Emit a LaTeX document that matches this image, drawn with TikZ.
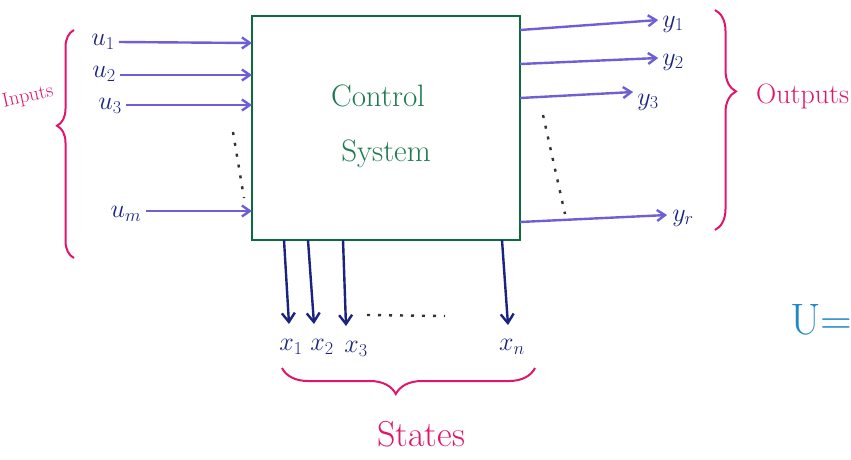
\RequirePackage{fix-cm}
\documentclass[tikz,border=0pt]{standalone}
\usetikzlibrary{arrows.meta,decorations.pathreplacing}
\definecolor{boxgreen}{HTML}{0E6B3C}
\definecolor{txtgreen}{HTML}{1E7A50}
\definecolor{arrpurple}{HTML}{6E5FD6}
\definecolor{navy}{HTML}{1A2380}
\definecolor{magentaink}{HTML}{E0156B}
\definecolor{cyanink}{HTML}{1E88C8}
\tikzset{
  sysbox/.style={draw=boxgreen, line width=2.6pt, minimum width=268pt, minimum height=224pt, inner sep=0pt},
  inarrow/.style={draw=arrpurple, line width=2.4pt, -{Straight Barb[length=8pt,width=11pt]}},
  statearrow/.style={draw=navy, line width=2.4pt, -{Straight Barb[length=9pt,width=13pt]}},
  sig/.style={text=navy, font=\fontsize{26}{28}\selectfont, inner sep=1pt},
  dotline/.style={draw=black!80, line width=2.4pt, dash pattern=on 3pt off 8pt},
  bracestyle/.style={draw=magentaink, line width=2pt, decorate},
  braceword/.style={text=magentaink, inner sep=0pt}
}
\begin{document}
\begin{tikzpicture}[x=1pt,y=-1pt]
\useasboundingbox (0,0) rectangle (851,459);
% system box
\node[sysbox] (sys) at (386,128) {};
\node[text=txtgreen, font=\fontsize{31}{33}\selectfont] (ctl) at (378,96) {Control};
\node[text=txtgreen, font=\fontsize{31}{33}\selectfont] (sysw) at (386,154) {System};
% input labels
\node[sig] (u1) at (103,42) {$u_1$};
\node[sig] (u2) at (104,74) {$u_2$};
\node[sig] (u3) at (110,106) {$u_3$};
\node[sig] (um) at (126,214) {$u_m$};
\coordinate (bu1) at (252,43);
\coordinate (bu2) at (252,75);
\coordinate (bu3) at (252,105);
\coordinate (bum) at (252,211);
\draw[inarrow] (u1.east) ++(3,0) -- (bu1);
\draw[inarrow] (u2.east) ++(3,1) -- (bu2);
\draw[inarrow] (u3.east) ++(3,-1) -- (bu3);
\draw[inarrow] (um.east) ++(4,-3) -- (bum);
\coordinate (d1a) at (233,132);
\coordinate (d1b) at (244,198);
\draw[dotline] (d1a) -- (d1b);
% output labels
\node[sig] (y1) at (673,24) {$y_1$};
\node[sig] (y2) at (673,62) {$y_2$};
\node[sig] (y3) at (648,102) {$y_3$};
\node[sig] (yr) at (683,218) {$y_r$};
\coordinate (by1) at (520,30);
\coordinate (by2) at (520,64);
\coordinate (by3) at (520,98);
\coordinate (byr) at (520,222);
\draw[inarrow] (by1) -- ([xshift=-3pt]y1.west |- 0,20);
\draw[inarrow] (by2) -- ([xshift=-3pt]y2.west |- 0,58);
\draw[inarrow] (by3) -- ([xshift=-3pt]y3.west |- 0,92);
\draw[inarrow] (byr) -- ([xshift=-4pt]yr.west |- 0,215);
\coordinate (d2a) at (543,115);
\coordinate (d2b) at (565,214);
\draw[dotline] (d2a) -- (d2b);
% states
\node[sig] (x1) at (291,347) {$x_1$};
\node[sig] (x2) at (322,347) {$x_2$};
\node[sig] (x3) at (356,349) {$x_3$};
\node[sig] (xn) at (512,347) {$x_n$};
\coordinate (bx1) at (284,240);
\coordinate (bx2) at (308,240);
\coordinate (bx3) at (343,240);
\coordinate (bxn) at (502,240);
\draw[statearrow] (bx1) -- (289,324);
\draw[statearrow] (bx2) -- (314,324);
\draw[statearrow] (bx3) -- (346,326);
\draw[statearrow] (bxn) -- (508,325);
\coordinate (d3a) at (367,315);
\coordinate (d3b) at (445,316);
\draw[dotline] (d3a) -- (d3b);
% braces
\coordinate (ib1) at (74,258);
\coordinate (ib2) at (74,30);
\draw[bracestyle, decoration={brace, amplitude=17pt, aspect=0.58}] (ib1) -- (ib2);
\node[braceword, font=\fontsize{20}{22}\selectfont, rotate=12] (inw) at (28,97) {Inputs};
\coordinate (ob1) at (715,10);
\coordinate (ob2) at (715,230);
\draw[bracestyle, decoration={brace, amplitude=21pt, aspect=0.37}] (ob1) -- (ob2);
\node[braceword, font=\fontsize{28}{30}\selectfont, anchor=west] (outw) at (756,96) {Outputs};
\coordinate (sb1) at (535,368);
\coordinate (sb2) at (282,368);
\draw[bracestyle, decoration={brace, amplitude=26pt, aspect=0.55}] (sb1) -- (sb2);
\node[braceword, font=\fontsize{36}{38}\selectfont] (stw) at (421,434) {States};
% stray text at right edge
\node[text=cyanink, font=\fontsize{44}{46}\selectfont, anchor=west, inner sep=0pt] (ueq) at (790,320) {U=};
\end{tikzpicture}
\end{document}
